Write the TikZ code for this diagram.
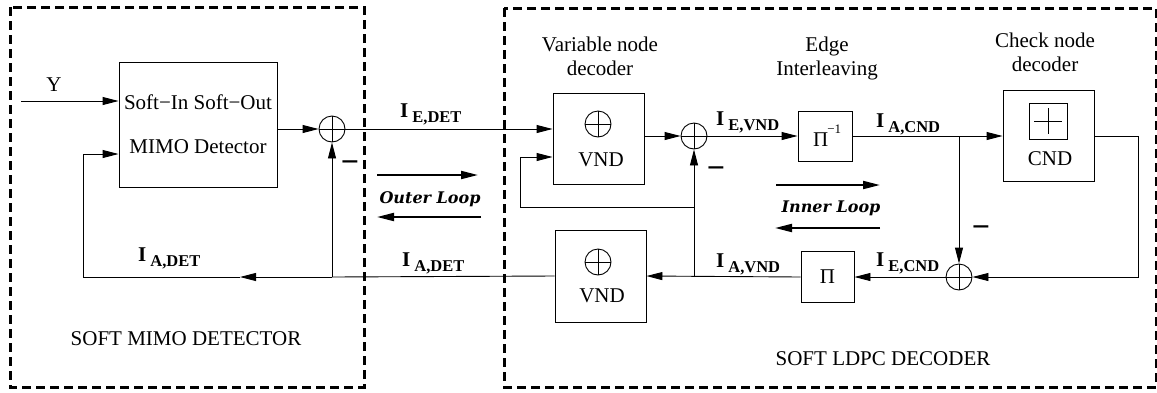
\documentclass[tikz,border=0pt]{standalone}
\usepackage{fontspec}
\setmainfont{Liberation Serif}
\newfontfamily\loopfont{DejaVu Serif}
\usetikzlibrary{arrows.meta,positioning}

\newcommand{\infolabel}[1]{{\fontsize{21}{21}\selectfont\bfseries I}\hspace{4pt}\raisebox{-5pt}{\fontsize{16.5}{16.5}\selectfont\bfseries #1}}

\tikzset{
  region/.style={line width=3pt, dash pattern=on 9pt off 5pt},
  block/.style={draw, line width=0.9pt, inner sep=0pt},
  adder/.style={circle, draw, line width=0.9pt, minimum size=26pt, inner sep=0pt,
    path picture={\draw[line width=0.9pt] (path picture bounding box.north) -- (path picture bounding box.south)
      (path picture bounding box.west) -- (path picture bounding box.east);}},
  checker/.style={block, minimum width=38pt, minimum height=36pt,
    path picture={\draw[line width=0.9pt, shorten >=5pt, shorten <=5pt] (path picture bounding box.north) -- (path picture bounding box.south);
      \draw[line width=0.9pt, shorten >=5pt, shorten <=5pt] (path picture bounding box.west) -- (path picture bounding box.east);}},
  link/.style={line width=0.9pt},
  flow/.style={link, -{Triangle[length=16pt,width=8pt]}},
  loopflow/.style={line width=2pt, -{Triangle[length=17pt,width=8pt]}},
  minus/.style={font=\fontsize{32}{32}\selectfont\bfseries, inner sep=0pt},
  looptext/.style={font=\loopfont\bfseries\itshape\fontsize{16}{18}\selectfont},
}

\begin{document}
\begin{tikzpicture}[x=1pt, y=-1pt, font=\fontsize{21}{24}\selectfont]
   \useasboundingbox (0,0) rectangle (1157,392);
   % dashed regions
   \draw[region] (10,7) rectangle (364,387);
   \draw[region] (504,8) rectangle (1156,387);
   \node[anchor=base] (detTitle) at (186,345) {SOFT MIMO DETECTOR};
   \node[anchor=base] (ldpcTitle) at (883,365) {SOFT LDPC DECODER};

   % blocks
   \node[block, minimum width=158pt, minimum height=125pt, align=center] (detector) at (198,124.5)
      {Soft−In Soft−Out\\[20pt]MIMO Detector};
   \node[block, minimum width=91pt, minimum height=91pt] (vndA) at (598.5,138.5) {};
   \node[block, minimum width=91pt, minimum height=92pt] (vndB) at (600.5,276) {};
   \node[block, minimum width=54pt, minimum height=50pt] (perminv) at (825,136) {};
   \node[block, minimum width=53pt, minimum height=51pt] (perm) at (827.5,277) {};
   \node[block, minimum width=91pt, minimum height=91pt] (cnd) at (1048.5,136) {};

   % block contents
   \node[adder] (vndAop) at (598,124) {};
   \node[anchor=base] (vndAtext) at (601,166) {VND};
   \node[adder] (vndBop) at (598,262) {};
   \node[anchor=base] (vndBtext) at (602,302) {VND};
   \node[checker] (cndop) at (1048,121) {};
   \node[anchor=base] (cndtext) at (1050,165) {CND};
   \node[anchor=base west, inner sep=0pt] (perminvtext) at (813,146)
      {Π\kern-1pt\raisebox{13pt}{\fontsize{13}{13}\selectfont −1}};
   \node[anchor=base] (permtext) at (827.5,283) {Π};

   % titles
   \node[align=center] (vndTitle) at (600,56) {Variable node\\decoder};
   \node[align=center] (edgeTitle) at (827,58) {Edge\\Interleaving};
   \node[align=center] (cndTitle) at (1045,52) {Check node\\decoder};

   % adders
   \node[adder] (sumDet) at (332,129) {};
   \node[adder] (sumVnd) at (694,136) {};
   \node[adder] (sumCnd) at (959,277) {};

   % junctions and corners
   \coordinate (yin) at (21,101);
   \coordinate (junDet) at (332,277);
   \coordinate (detFbA) at (240,277);
   \coordinate (detFbB) at (83,277);
   \coordinate (detFbC) at (83,154);
   \coordinate (junVnd) at (694,277);
   \coordinate (tapA) at (694,207);
   \coordinate (loopA) at (520,207);
   \coordinate (loopB) at (520,157);
   \coordinate (branch) at (959,136);
   \coordinate (cndTurnA) at (1138,136);
   \coordinate (cndTurnB) at (1138,277);

   % detector side
   \node[anchor=base] (ylabel) at (54,91) {Y};
   \draw[flow] (yin) -- (yin -| detector.west);
   \draw[flow] (detector.east |- sumDet) -- (sumDet.west);
   \draw[flow] (sumDet.east) -- (sumDet -| vndA.west);
   \draw[flow] (junDet) -- (sumDet.south);
   \draw[flow] (junDet) -- (detFbA);
   \draw[flow] (detFbA) -- (detFbB) -- (detFbC) -- (detFbC -| detector.west);
   \node[minus] (minusDet) at (350,167) {−};

   % decoder side
   \draw[flow] (vndA.east |- sumVnd) -- (sumVnd.west);
   \draw[flow] (tapA) -- (loopA) -- (loopB) -- (loopB -| vndA.west);
   \draw[flow] (junVnd) -- (sumVnd.south);
   \draw[flow] (sumVnd.east) -- (perminv.west);
   \draw[flow] (perminv.east) -- (cnd.west);
   \draw[flow] (branch) -- (sumCnd.north);
   \draw[flow] (cnd.east) -- (cndTurnA) -- (cndTurnB) -- (sumCnd.east);
   \draw[flow] (sumCnd.west) -- (perm.east);
   \draw[flow] (perm.west) -- (vndB.east);
   \draw[link] (vndB.west) -- (junDet);
   \node[minus] (minusVnd) at (716,173) {−};
   \node[minus] (minusCnd) at (981,231.5) {−};

   % labels
   \node[anchor=base west, inner sep=0pt] (ieDet) at (400,117) {\infolabel{E,DET}};
   \node[anchor=base west, inner sep=0pt] (iaDetL) at (138,261) {\infolabel{A,DET}};
   \node[anchor=base west, inner sep=0pt] (iaDetR) at (402,266) {\infolabel{A,DET}};
   \node[anchor=base west, inner sep=0pt] (ieVnd) at (716,125) {\infolabel{E,VND}};
   \node[anchor=base west, inner sep=0pt] (iaVnd) at (716,267) {\infolabel{A,VND}};
   \node[anchor=base west, inner sep=0pt] (iaCnd) at (876,127) {\infolabel{A,CND}};
   \node[anchor=base west, inner sep=0pt] (ieCnd) at (876,266) {\infolabel{E,CND}};

   % loop arrows
   \coordinate (outerA) at (377,175);
   \coordinate (outerB) at (478,175);
   \coordinate (outerC) at (481,217);
   \coordinate (outerD) at (377,217);
   \draw[loopflow] (outerA) -- (outerB);
   \draw[loopflow] (outerC) -- (outerD);
   \node[looptext, anchor=base] (outerText) at (430,203) {Outer Loop};
   \coordinate (innerA) at (776,185);
   \coordinate (innerB) at (880,185);
   \coordinate (innerC) at (880,228);
   \coordinate (innerD) at (775,228);
   \draw[loopflow] (innerA) -- (innerB);
   \draw[loopflow] (innerC) -- (innerD);
   \node[looptext, anchor=base] (innerText) at (831,212) {Inner Loop};
\end{tikzpicture}
\end{document}
